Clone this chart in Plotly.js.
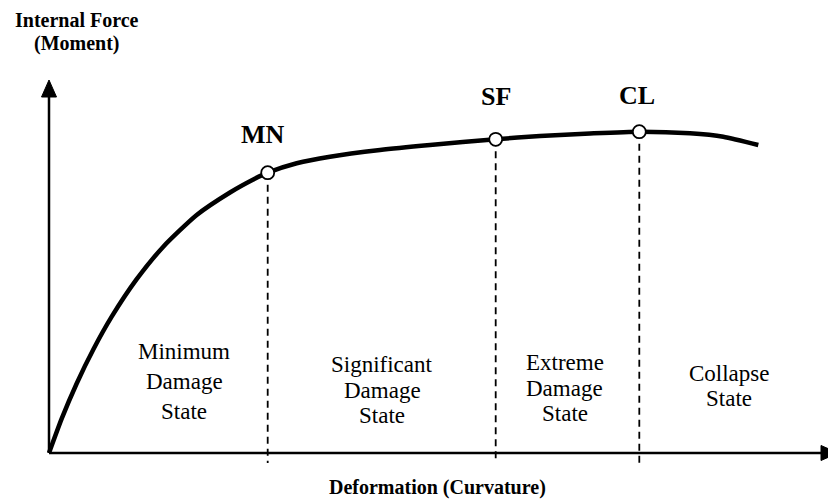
<!DOCTYPE html>
<html>
<head>
<meta charset="utf-8">
<script src="https://cdn.plot.ly/plotly-3.0.1.min.js"></script>
<style>
  html, body { margin: 0; padding: 0; background: #fff; }
  #chart { width: 828px; height: 500px; }
</style>
</head>
<body>
<div id="chart"></div>
<script>
// Capacity curve (deformation vs internal force)
const curveDeformation = [0, 12.7, 27.7, 44.3, 62.7, 87.7, 114.3, 147.7, 181, 204.3, 218.7, 247.7, 281, 331, 381, 446.7, 491, 541, 590.3, 641, 674.3, 709.3];
const curveMoment      = [0, 34.3, 69.5, 103.5, 136.3, 173.8, 206.3, 238, 260.5, 273.5, 280.3, 289.7, 296.3, 303, 308, 313.7, 317, 319.5, 321.3, 319.7, 316.3, 308];

// Performance points
const pointLabels      = ['MN', 'SF', 'CL'];
const pointDeformation = [218.7, 446.7, 590.3];
const pointMoment      = [280.3, 313.7, 321.3];

// Damage state region labels (one entry per line)
const regionLines = [
  ['Minimum', 'Damage', 'State'],
  ['Significant', 'Damage', 'State'],
  ['Extreme', 'Damage', 'State'],
  ['Collapse', 'State']
];

// Axis titles
const yTitleLines = ['Internal Force', '(Moment)'];
const xTitle = 'Deformation (Curvature)';

// ---- layout geometry (pixels) ----
const W = 828, H = 500;
const L = 40, R = 0, T = 70, B = 25;
const xRange = [-9, 779];
const yRange = [-22, 383];
function px2paperX(px) { return (px - L) / (W - L - R); }
function px2paperY(py) { return (H - B - py) / (H - T - B); }

const serif = 'Liberation Serif, Times New Roman, serif';

// region label geometry
const regionCenterX = [135, 333, 515.7, 680];
const regionLineY = [
  [101.3, 71.3, 41.3],
  [88.5, 63, 37.5],
  [90.5, 65, 39.5],
  [80, 54.5]
];
const labelShift = [[-4.7, 38.7], [0.3, 43], [-2.6, 35.7]];

const annotations = [];
regionLines.forEach((lines, i) => {
  lines.forEach((t, j) => {
    annotations.push({
      x: regionCenterX[i], y: regionLineY[i][j], xref: 'x', yref: 'y',
      text: t, showarrow: false, xanchor: 'center', yanchor: 'middle',
      font: { family: serif, size: 23, color: '#000' }
    });
  });
});
pointLabels.forEach((t, i) => {
  annotations.push({
    x: pointDeformation[i], y: pointMoment[i], xref: 'x', yref: 'y',
    xshift: labelShift[i][0], yshift: labelShift[i][1],
    text: '<b>' + t + '</b>', showarrow: false, xanchor: 'center', yanchor: 'middle',
    font: { family: serif, size: 26, color: '#000' }
  });
});
const yTitleY = [20, 43];
yTitleLines.forEach((t, j) => {
  annotations.push({
    x: px2paperX(76.5), y: px2paperY(yTitleY[j]), xref: 'paper', yref: 'paper',
    text: '<b>' + t + '</b>', showarrow: false, xanchor: 'center', yanchor: 'middle',
    font: { family: serif, size: 20, color: '#000' }
  });
});
annotations.push({
  x: px2paperX(437), y: px2paperY(487.5), xref: 'paper', yref: 'paper',
  text: '<b>' + xTitle + '</b>', showarrow: false, xanchor: 'center', yanchor: 'middle',
  font: { family: serif, size: 20, color: '#000' }
});

const shapes = [
  // y axis
  { type: 'line', xref: 'x', yref: 'y', x0: 0, y0: 0, x1: 0, y1: 358, line: { color: '#000', width: 2.5 }, layer: 'below' },
  { type: 'path', xref: 'x', yref: 'y', path: 'M -7.5 356 L 7.5 356 L 0 373 Z', fillcolor: '#000', line: { color: '#000', width: 1 }, layer: 'below' },
  // x axis
  { type: 'line', xref: 'x', yref: 'y', x0: 0, y0: 0, x1: 774, y1: 0, line: { color: '#000', width: 2.5 }, layer: 'below' },
  { type: 'path', xref: 'x', yref: 'y', path: 'M 772 -7.5 L 772 7.5 L 789 0 Z', fillcolor: '#000', line: { color: '#000', width: 1 }, layer: 'below' }
];
pointDeformation.forEach((x, i) => {
  shapes.push({
    type: 'line', xref: 'x', yref: 'y', x0: x, x1: x, y0: pointMoment[i], y1: -10,
    line: { color: '#000', width: 1.8, dash: '7px,5px' }, layer: 'below'
  });
});

const traces = [
  {
    x: curveDeformation, y: curveMoment, type: 'scatter', mode: 'lines',
    line: { color: '#000', width: 4.5, shape: 'spline', smoothing: 0.6 },
    hoverinfo: 'skip', cliponaxis: false
  },
  {
    x: pointDeformation, y: pointMoment, type: 'scatter', mode: 'markers',
    marker: { color: '#fff', size: 13, line: { color: '#000', width: 1.8 } },
    hoverinfo: 'skip', cliponaxis: false
  }
];

const layout = {
  width: W, height: H,
  margin: { l: L, r: R, t: T, b: B, pad: 0 },
  paper_bgcolor: '#fff', plot_bgcolor: '#fff',
  showlegend: false,
  xaxis: { range: xRange, visible: false, showgrid: false, zeroline: false, fixedrange: true },
  yaxis: { range: yRange, visible: false, showgrid: false, zeroline: false, fixedrange: true },
  shapes: shapes,
  annotations: annotations
};

Plotly.newPlot('chart', traces, layout, { staticPlot: true, displayModeBar: false });
</script>
</body>
</html>
